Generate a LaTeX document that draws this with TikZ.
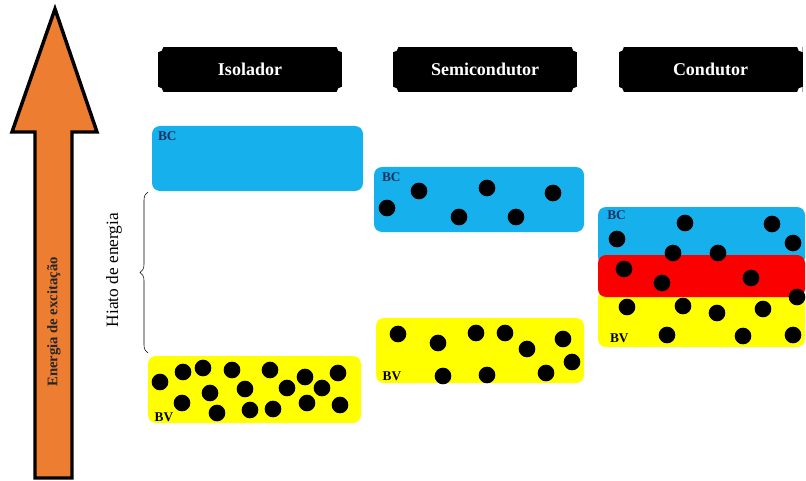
\documentclass[tikz,border=0pt]{standalone}
\usepackage{fontspec}
\setmainfont{Liberation Serif}
\usetikzlibrary{positioning,fit,decorations.pathreplacing}
\definecolor{bandblue}{RGB}{22,176,236}
\definecolor{bandyellow}{RGB}{255,255,0}
\definecolor{bandred}{RGB}{250,0,0}
\definecolor{arroworange}{RGB}{237,125,49}
\definecolor{labelnavy}{RGB}{31,50,95}
\tikzset{
  band/base/.style={rounded corners=6pt, inner sep=0pt},
  band/bc/.style={band/base, fill=bandblue},
  band/bv/.style={band/base, fill=bandyellow},
  band/mix/.style={band/base, fill=bandred},
  band/label/.style={font=\bfseries\fontsize{10}{12}\selectfont, inner sep=0pt},
  band/dot/.style={circle, fill=black, inner sep=0pt, minimum size=12.5pt},
  head/box/.style={fill=black, text=white, font=\bfseries\fontsize{13.5}{16}\selectfont,
    minimum width=138pt, minimum height=34pt,
    path picture={\foreach \c in {north west,north east,south west,south east}
      {\fill[white] (path picture bounding box.\c) circle (4pt);}}},
  side/text/.style={rotate=90, inner sep=0pt}
}

\begin{document}
\begin{tikzpicture}[x=0.75pt, y=-0.75pt]
  \useasboundingbox (0,0) rectangle (806,481);

  % energy arrow
  \draw[line width=2.6pt, miter limit=20, fill=arroworange]
    (35,478) -- (35,132) -- (12,132) -- (55,9) -- (97,132) -- (72,132) -- (72,478) -- cycle;
  \node[side/text, font=\bfseries\fontsize{11}{13}\selectfont, text=black!85] (arrow-txt) at (54,322) {Energia de excitação};

  % headings
  \node[head/box] (iso-t) at (250,69.5) {Isolador};
  \node[head/box] (semi-t) at (485,69.5) {Semicondutor};
  \node[head/box] (cond-t) at (710.5,69.5) {Condutor};

  % insulator
  \node[band/bc, fit={(152,126) (363,191)}] (iso-bc) {};
  \node[band/bv, fit={(148,356) (361,423)}] (iso-bv) {};
  \node[band/label, text=labelnavy, anchor=north west] (iso-bc-l) at ([xshift=4.5pt,yshift=-4.5pt]iso-bc.north west) {BC};
  \node[band/label, anchor=south west] (iso-bv-l) at ([xshift=5pt,yshift=1pt]iso-bv.south west) {BV};
  \foreach \p [count=\i] in {(160,382),(183,372),(203,368),(232,370),(270,370),(305,377),(338,373),
      (210,393),(245,389),(287,388),(322,388),(182,403),(217,413),(250,410),(273,409),(307,403),(340,405)}
    \node[band/dot] (iso-e\i) at \p {};

  % gap
  \coordinate (gap-top) at (148,192);
  \coordinate (gap-bot) at (148,353);
  \draw[decorate, decoration={brace, amplitude=6pt}, thin] (gap-bot) -- (gap-top);
  \node[side/text, font=\fontsize{13}{15}\selectfont] (gap-txt) at (114,270) {Hiato de energia};

  % semiconductor
  \node[band/bc, fit={(374,167) (584,232)}] (semi-bc) {};
  \node[band/bv, fit={(376,318) (584,383)}] (semi-bv) {};
  \node[band/label, text=labelnavy, anchor=north west] (semi-bc-l) at ([xshift=6pt,yshift=-4pt]semi-bc.north west) {BC};
  \node[band/label, anchor=south west] (semi-bv-l) at ([xshift=5pt,yshift=1.5pt]semi-bv.south west) {BV};
  \foreach \p [count=\i] in {(419,191),(487,188),(553,193),(387,208),(459,217),(516,217)}
    \node[band/dot] (semi-c\i) at \p {};
  \foreach \p [count=\i] in {(398,334),(438,343),(476,333),(505,333),(563,339),(527,349),(572,362),
      (443,376),(487,375),(546,373)}
    \node[band/dot] (semi-e\i) at \p {};

  % conductor
  \node[band/bc, fit={(598,207) (805,265)}] (cond-bc) {};
  \node[band/bv, fit={(598,290) (805,347)}] (cond-bv) {};
  \node[band/mix, fit={(598,255) (805,297)}] (cond-mix) {};
  \node[band/label, text=labelnavy, anchor=north west] (cond-bc-l) at ([xshift=7pt,yshift=-2.5pt]cond-bc.north west) {BC};
  \node[band/label, anchor=south west] (cond-bv-l) at ([xshift=9pt,yshift=3pt]cond-bv.south west) {BV};
  \foreach \p [count=\i] in {(685,223),(772,224),(617,239),(793,243),(673,253),(718,253),
      (624,269),(662,283),(751,278),(797,297),(627,307),(683,306),(717,313),(763,309),
      (667,335),(743,336),(793,335)}
    \node[band/dot] (cond-e\i) at \p {};
\end{tikzpicture}
\end{document}
